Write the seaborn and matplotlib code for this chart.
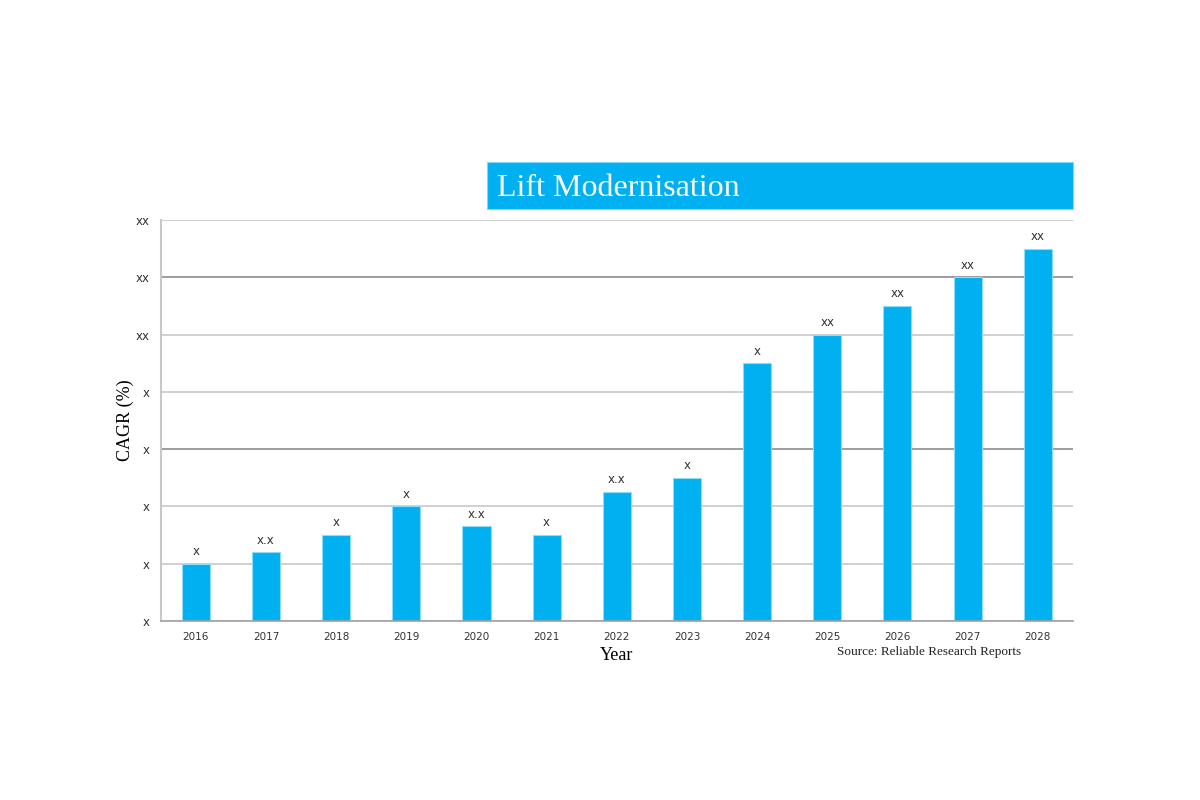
import matplotlib
matplotlib.use("Agg")
import matplotlib.pyplot as plt
import matplotlib.patches as mpatches
from matplotlib.ticker import FixedLocator
import seaborn as sns
import pandas as pd

# chart data
years = ['2016', '2017', '2018', '2019', '2020', '2021', '2022',
         '2023', '2024', '2025', '2026', '2027', '2028']
cagr = [1.0, 1.2, 1.5, 2.0, 1.65, 1.5, 2.25, 2.5, 4.5, 5.0, 5.5, 6.0, 6.5]
bar_labels = ['x', 'x.x', 'x', 'x', 'x.x', 'x', 'x.x', 'x', 'x', 'xx', 'xx', 'xx', 'xx']
y_ticks = [0, 1, 2, 3, 4, 5, 6, 7]
y_tick_labels = ['x', 'x', 'x', 'x', 'x', 'xx', 'xx', 'xx']

title = 'Lift Modernisation'
source = 'Source: Reliable Research Reports'

BLUE = '#00B0F0'
TEXT = '#333333'

sns.set_style('white')
plt.rcParams['font.family'] = ['DejaVu Sans']

df = pd.DataFrame({'Year': years, 'CAGR': cagr})

fig = plt.figure(figsize=(12, 8), dpi=100)
ax = fig.add_axes([0.134, 0.224, 0.76, 0.501])

sns.barplot(data=df, x='Year', y='CAGR', order=years, color=BLUE,
            width=0.4, edgecolor='#8fdcf8', linewidth=0.8, saturation=1, ax=ax)

ax.bar_label(ax.containers[0], labels=bar_labels, padding=4,
             fontsize=8.5, color=TEXT)

ax.set_xlim(-0.5, len(years) - 0.5)
ax.set_ylim(0, 7)
ax.set_yticks(y_ticks)
ax.set_yticklabels(y_tick_labels, fontsize=8.5, color=TEXT)
ax.tick_params(axis='x', length=0, labelsize=7.5, labelcolor=TEXT, pad=8)
ax.tick_params(axis='y', length=4, width=1, color='#c0c0c0', pad=4)

# boundary ticks between categories on the x axis
ax.xaxis.set_minor_locator(FixedLocator([i - 0.5 for i in range(len(years) + 1)]))
ax.tick_params(axis='x', which='minor', length=4, width=1, color='#a0a0a0')

ax.grid(axis='y', color='#c8c8c8', linewidth=1.2)
ax.set_axisbelow(True)
# a couple of the Excel gridlines render darker
for i, gl in enumerate(ax.yaxis.get_gridlines()):
    if i in (3, 6):
        gl.set_color('#8c8c8c')

for side in ('top', 'right'):
    ax.spines[side].set_visible(False)
ax.spines['left'].set_color('#c8c8c8')
ax.spines['left'].set_linewidth(1.5)
ax.spines['bottom'].set_color('#a0a0a0')
ax.spines['bottom'].set_linewidth(1.2)

ax.set_xlabel('Year', family='Liberation Serif', fontsize=13, color='black', labelpad=4)
ax.set_ylabel('CAGR (%)', family='Liberation Serif', fontsize=13, color='black', labelpad=1)

# title banner
fig.patches.append(mpatches.Rectangle((0.406, 0.739), 0.488, 0.0585,
                                      transform=fig.transFigure,
                                      facecolor=BLUE, edgecolor='#7fd7f7',
                                      linewidth=0.8, zorder=0))
fig.text(0.414, 0.764, title, family='Liberation Serif', fontsize=23,
         color='white', va='center', ha='left')

fig.text(0.774, 0.185, source, family='Liberation Serif', fontsize=9.5,
         color='#222222', ha='center', va='center')

fig.savefig('out.png', dpi=100, facecolor='white')
